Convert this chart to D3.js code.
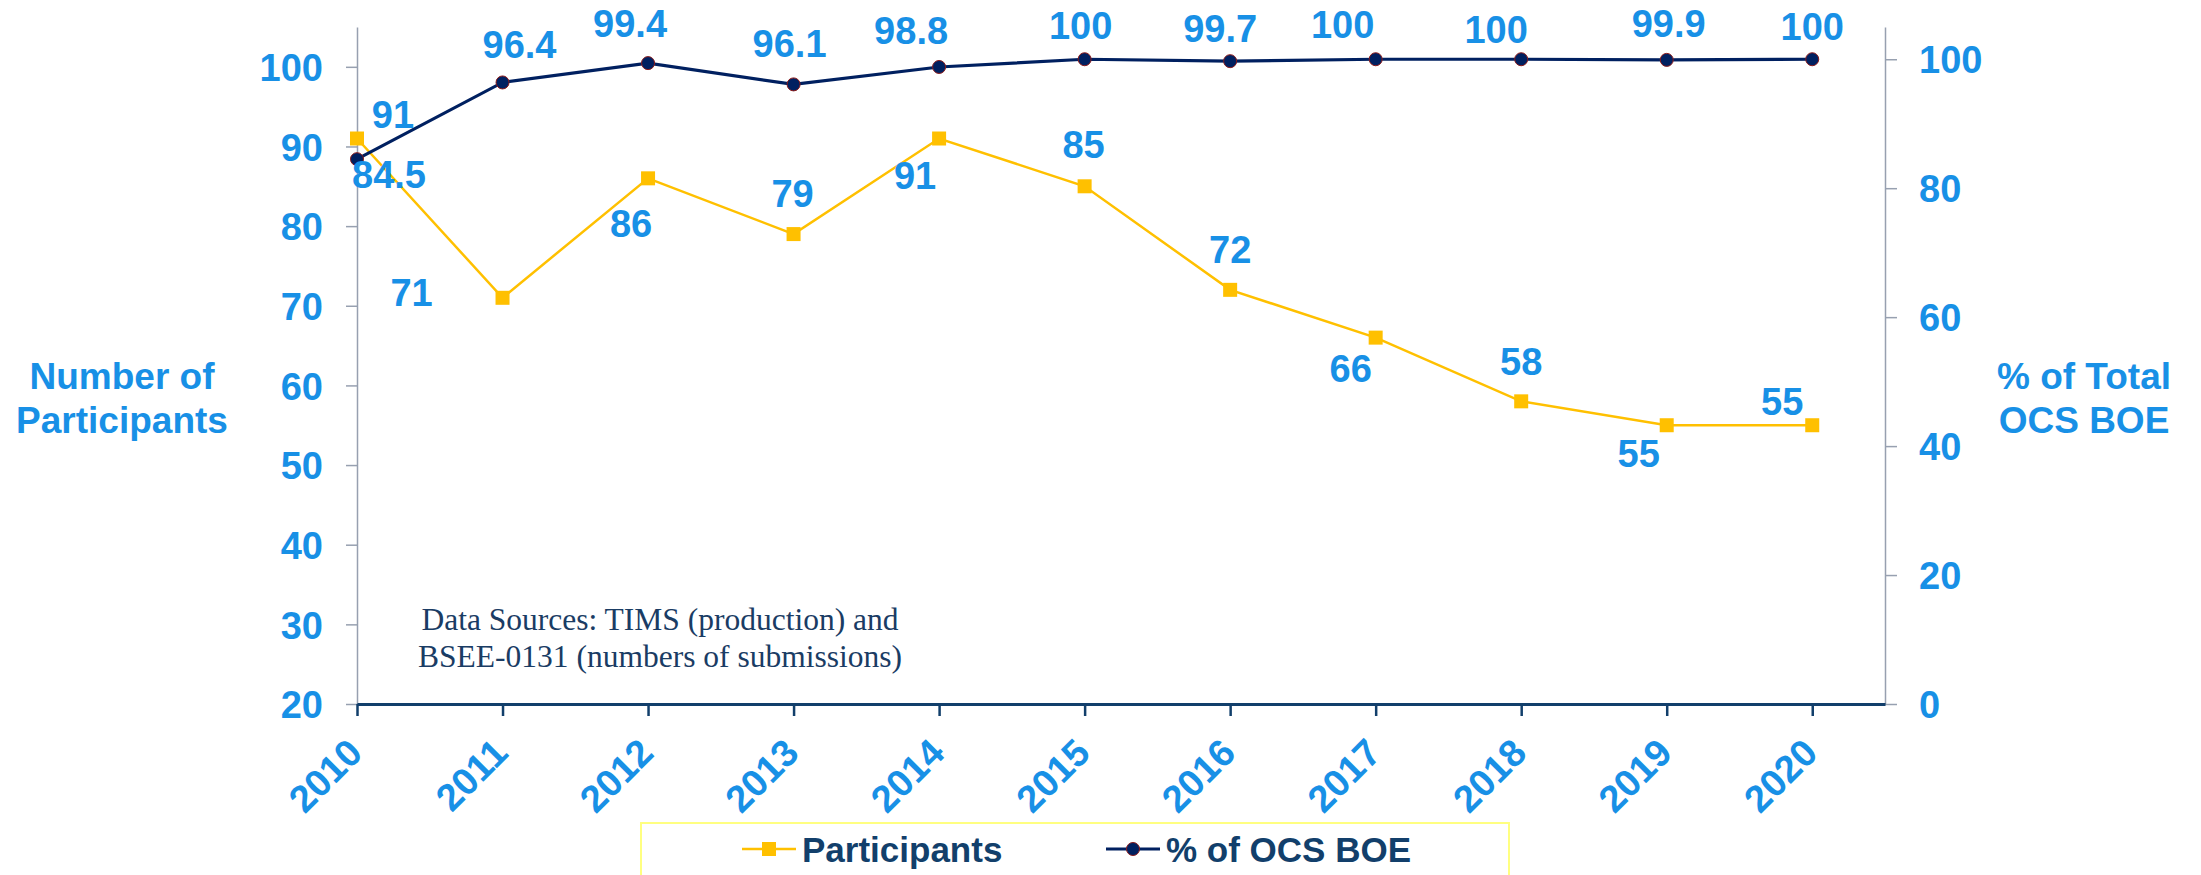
<!DOCTYPE html>
<html>
<head>
<meta charset="utf-8">
<script src="https://cdn.jsdelivr.net/npm/d3@7"></script>
<style>
    html, body { margin: 0; padding: 0; background: #fff; }
    svg { display: block; }
</style>
</head>
<body>
<svg id="chart" width="2201" height="875"></svg>
<script>
const years = [2010, 2011, 2012, 2013, 2014, 2015, 2016, 2017, 2018, 2019, 2020];
const participants = [91, 71, 86, 79, 91, 85, 72, 66, 58, 55, 55];
const ocsBoe = [84.5, 96.4, 99.4, 96.1, 98.8, 100, 99.7, 100, 100, 99.9, 100];
const leftTicks = [20, 30, 40, 50, 60, 70, 80, 90, 100];
const rightTicks = [0, 20, 40, 60, 80, 100];

// hand placed label offsets (centre x, baseline y) from each marker
const partLabelOffset = [[36, -11], [-91, 8], [-17, 59], [-1, -27], [-24, 50], [-1, -28], [0, -27], [-25, 44], [0, -26], [-28, 42], [-30, -10]];
const boeLabelOffset = [[32, 29], [17, -24], [-18, -26], [-4, -27], [-28, -23], [-4, -20], [-10, -19], [-33, -21], [-25, -16], [2, -23], [0, -19]];

const blue = '#1890e6';
const gold = '#ffc000';
const navy = '#002060';
const font = '"Liberation Sans", Arial, sans-serif';

const svg = d3.select('#chart');

const plotLeft = 357, plotRight = 1885, plotTop = 27, plotBottom = 704;

const x = d3.scaleLinear().domain([2010, 2020.5]).range([plotLeft, plotRight]);
const yL = d3.scaleLinear().domain([20, 105]).range([plotBottom, plotTop]);
const yR = d3.scaleLinear().domain([0, 105]).range([plotBottom, plotTop]);

// left axis
const gL = svg.append('g')
    .attr('transform', `translate(${plotLeft},0)`)
    .call(d3.axisLeft(yL).tickValues(leftTicks).tickSize(11).tickSizeOuter(0).tickPadding(23));
// right axis
const gR = svg.append('g')
    .attr('transform', `translate(${plotRight},0)`)
    .call(d3.axisRight(yR).tickValues(rightTicks).tickSize(12).tickSizeOuter(0).tickPadding(22));

[gL, gR].forEach(g => {
    g.select('.domain').attr('stroke', '#97a0b0').attr('stroke-width', 1.5);
    g.selectAll('.tick line').attr('stroke', '#97a0b0').attr('stroke-width', 1.5);
    g.selectAll('.tick text')
        .attr('fill', blue)
        .attr('font-family', font)
        .attr('font-weight', 'bold')
        .attr('font-size', '38px')
        .attr('dy', '0.36em');
});

// bottom axis
const gX = svg.append('g')
    .attr('transform', `translate(0,${plotBottom})`)
    .call(d3.axisBottom(x).tickValues(years).tickFormat(d3.format('d')).tickSize(12).tickSizeOuter(0));
gX.select('.domain').attr('stroke', '#123f6b').attr('stroke-width', 3);
gX.selectAll('.tick line').attr('stroke', '#123f6b').attr('stroke-width', 2.5);
gX.selectAll('.tick text')
    .attr('fill', blue)
    .attr('font-family', font)
    .attr('font-weight', 'bold')
    .attr('font-size', '38px')
    .attr('text-anchor', 'end')
    .attr('y', 0)
    .attr('dy', 0)
    .attr('transform', 'translate(7,51) rotate(-45)');

// axis titles
function title(lines, cx) {
    const t = svg.append('text')
        .attr('fill', blue)
        .attr('font-family', font)
        .attr('font-weight', 'bold')
        .attr('font-size', '37px')
        .attr('text-anchor', 'middle');
    lines.forEach((l, i) => {
        t.append('tspan').attr('x', cx).attr('y', 389 + i * 44).text(l);
    });
}
title(['Number of', 'Participants'], 122);
title(['% of Total', 'OCS BOE'], 2084);

// data source note
const note = svg.append('text')
    .attr('fill', '#1a3c64')
    .attr('font-family', '"Liberation Serif", "Times New Roman", serif')
    .attr('font-size', '31.5px')
    .attr('text-anchor', 'middle');
note.append('tspan').attr('x', 660).attr('y', 630).text('Data Sources: TIMS (production) and');
note.append('tspan').attr('x', 660).attr('y', 667).text('BSEE-0131 (numbers of submissions)');

// participants series
const partLine = d3.line().x((d, i) => x(years[i])).y(d => yL(d));
svg.append('path')
    .datum(participants)
    .attr('d', partLine)
    .attr('fill', 'none')
    .attr('stroke', gold)
    .attr('stroke-width', 2.5);

// % of OCS BOE series
const boeLine = d3.line().x((d, i) => x(years[i])).y(d => yR(d));
svg.append('path')
    .datum(ocsBoe)
    .attr('d', boeLine)
    .attr('fill', 'none')
    .attr('stroke', navy)
    .attr('stroke-width', 3.2);

svg.selectAll('rect.part')
    .data(participants)
    .enter()
    .append('rect')
    .attr('class', 'part')
    .attr('x', (d, i) => x(years[i]) - 7)
    .attr('y', d => yL(d) - 7)
    .attr('width', 14)
    .attr('height', 14)
    .attr('fill', gold);

svg.selectAll('circle.boe')
    .data(ocsBoe)
    .enter()
    .append('circle')
    .attr('class', 'boe')
    .attr('cx', (d, i) => x(years[i]))
    .attr('cy', d => yR(d))
    .attr('r', 6.5)
    .attr('fill', navy)
    .attr('stroke', '#8b1a1a')
    .attr('stroke-width', 1);

// value labels
function labels(values, scale, offsets) {
    svg.append('g').selectAll('text')
        .data(values)
        .enter()
        .append('text')
        .attr('x', (d, i) => x(years[i]) + offsets[i][0])
        .attr('y', (d, i) => scale(d) + offsets[i][1])
        .attr('text-anchor', 'middle')
        .attr('fill', blue)
        .attr('font-family', font)
        .attr('font-weight', 'bold')
        .attr('font-size', '38px')
        .text(d => d);
}
labels(participants, yL, partLabelOffset);
labels(ocsBoe, yR, boeLabelOffset);

// legend
const legend = svg.append('g');
legend.append('rect')
    .attr('x', 641)
    .attr('y', 823)
    .attr('width', 868)
    .attr('height', 70)
    .attr('fill', 'none')
    .attr('stroke', '#ffff80')
    .attr('stroke-width', 2);

const legendItems = [
    { name: 'Participants', color: gold, shape: 'square', x0: 742 },
    { name: '% of OCS BOE', color: navy, shape: 'circle', x0: 1106 }
];
const ly = 849;
legendItems.forEach(item => {
    legend.append('line')
        .attr('x1', item.x0).attr('x2', item.x0 + 54)
        .attr('y1', ly).attr('y2', ly)
        .attr('stroke', item.color)
        .attr('stroke-width', item.shape === 'square' ? 2.5 : 3);
    if (item.shape === 'square') {
        legend.append('rect')
            .attr('x', item.x0 + 27 - 7).attr('y', ly - 7)
            .attr('width', 14).attr('height', 14)
            .attr('fill', item.color);
    } else {
        legend.append('circle')
            .attr('cx', item.x0 + 27).attr('cy', ly)
            .attr('r', 6.5)
            .attr('fill', item.color)
            .attr('stroke', '#8b1a1a')
            .attr('stroke-width', 1);
    }
    legend.append('text')
        .attr('x', item.x0 + 60)
        .attr('y', ly + 13)
        .attr('fill', '#123f6b')
        .attr('font-family', font)
        .attr('font-weight', 'bold')
        .attr('font-size', '35px')
        .text(item.name);
});
</script>
</body>
</html>
